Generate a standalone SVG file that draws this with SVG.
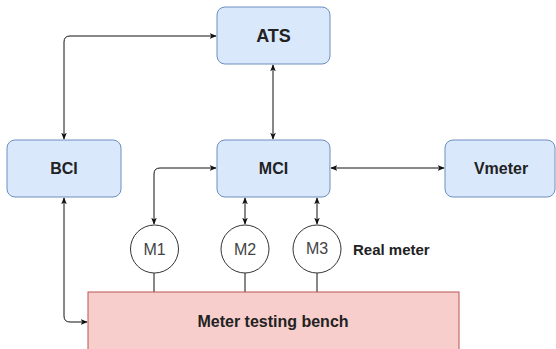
<svg xmlns="http://www.w3.org/2000/svg" width="556" height="349" viewBox="0 0 556 349">
<defs>
<marker id="ah" viewBox="0 0 10 10" refX="9" refY="5" markerWidth="7" markerHeight="7" orient="auto-start-reverse" markerUnits="userSpaceOnUse">
<path d="M0,1 L10,5 L0,9 L2.5,5 Z" fill="#111"/>
</marker>
<style>
.box{fill:#dae8fc;stroke:#6c8ebf;stroke-width:1}
.bench{fill:#f8cecc;stroke:#b85450;stroke-width:1}
.m{fill:#fff;stroke:#333;stroke-width:1}
.lbl{font-family:"Liberation Sans",Arial,sans-serif;font-weight:bold;font-size:16px;fill:#222;text-anchor:middle;dominant-baseline:central}
.ml{font-family:"Liberation Sans",Arial,sans-serif;font-size:16px;fill:#444;text-anchor:middle;dominant-baseline:central}
.e{fill:none;stroke:#111;stroke-width:1}
</style>
</defs>
<g id="connectors">
<path class="e" d="M64,139 L64,42 Q64,36 70,36 L216,36" marker-start="url(#ah)" marker-end="url(#ah)"/>
<path class="e" d="M273,65 L273,139" marker-start="url(#ah)" marker-end="url(#ah)"/>
<path class="e" d="M331,168 L444,168" marker-start="url(#ah)" marker-end="url(#ah)"/>
<path class="e" d="M216,168 L160,168 Q154,168 154,174 L154,224" marker-start="url(#ah)" marker-end="url(#ah)"/>
<path class="e" d="M245,198 L245,224" marker-start="url(#ah)" marker-end="url(#ah)"/>
<path class="e" d="M317,198 L317,224" marker-start="url(#ah)" marker-end="url(#ah)"/>
<path class="e" d="M64,198 L64,316 Q64,322 70,322 L87,322" marker-start="url(#ah)" marker-end="url(#ah)"/>
<path class="e" d="M154,273 L154,292 M245,273 L245,292 M317,273 L317,292" stroke="#333"/>
</g>
<g id="bench"><rect class="bench" x="88" y="292" width="371" height="70"/><text class="lbl" x="273" y="321">Meter testing bench</text></g>
<g id="ats"><rect class="box" x="217" y="7" width="113" height="57" rx="8"/><text class="lbl" x="273.5" y="36" style="font-size:18px">ATS</text></g>
<g id="mci"><rect class="box" x="217" y="140" width="113" height="57" rx="8"/><text class="lbl" x="273.5" y="168.5">MCI</text></g>
<g id="bci"><rect class="box" x="7" y="140" width="114" height="57" rx="8"/><text class="lbl" x="64" y="168.5">BCI</text></g>
<g id="vmeter"><rect class="box" x="445" y="140" width="110" height="57" rx="8"/><text class="lbl" x="501" y="168.5">Vmeter</text></g>
<g id="m1"><circle class="m" cx="154.5" cy="249" r="24"/><text class="ml" x="154.5" y="249">M1</text></g>
<g id="m2"><circle class="m" cx="245" cy="249" r="24"/><text class="ml" x="245" y="249">M2</text></g>
<g id="m3"><circle class="m" cx="317" cy="249" r="24"/><text class="ml" x="317" y="248">M3</text></g>
<g id="realmeter"><text class="lbl" x="353" y="249" style="text-anchor:start;font-size:15px">Real meter</text></g>
</svg>
